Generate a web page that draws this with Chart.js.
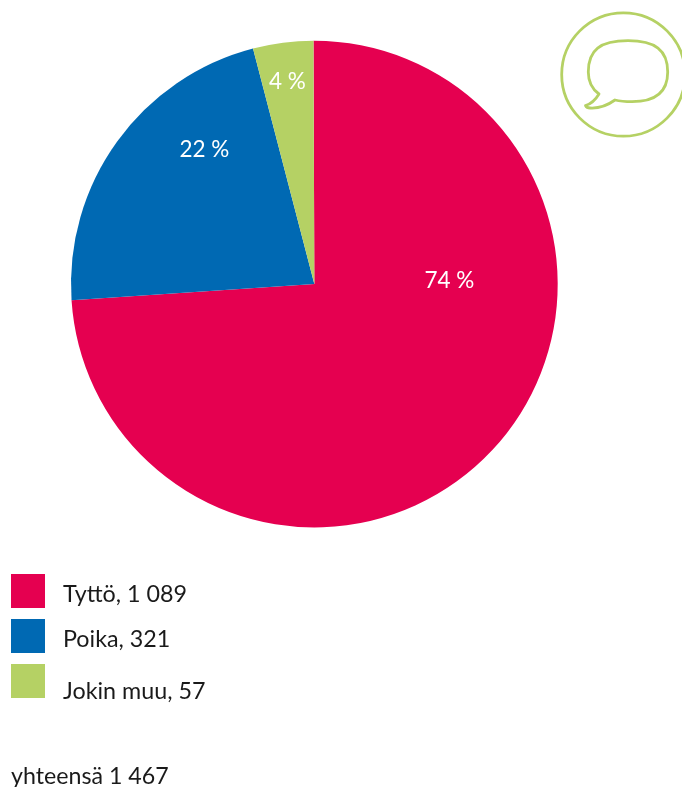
<!DOCTYPE html>
<html lang="fi">
<head>
<meta charset="utf-8">
<title>Tyttö, poika, jokin muu</title>
<script src="https://cdn.jsdelivr.net/npm/chart.js@4"></script>
<style>
  html, body { margin: 0; padding: 0; background: #fff; overflow: hidden; }
  #stage { position: relative; width: 682px; height: 787px; font-family: Lato, "Open Sans", sans-serif; color: #1a1a1a; }
  #stage canvas { position: absolute; left: 0; top: 0; }
  #icon { position: absolute; left: 0; top: 0; pointer-events: none; }
  .swatch { position: absolute; left: 11px; width: 34px; height: 34px; }
  .entry, #total { position: absolute; font-size: 23.3px; line-height: 28px; white-space: nowrap; }
  .entry { left: 63px; }
  #total { left: 11px; top: 761px; font-size: 23.2px; }
</style>
</head>
<body>
<div id="stage">
  <canvas id="chart" width="682" height="787"></canvas>
  <svg id="icon" width="682" height="787" fill="none" stroke="#b5d164">
    <circle cx="623.4" cy="74.5" r="61.7" stroke-width="2.8"/>
    <path stroke-width="2.8" stroke-linejoin="round" d="M628 40.7 C655 40.7 667.7 50 667.7 72 C667.7 92 655 101.7 632 101.7 C625 101.7 619 101 615 100 C608 105 598 108.5 590 108 C587 108 586 106.5 585.5 105.5 C591 104 596 99 599 94 C592 89 588.3 82 588.3 72 C588.3 50 600 40.7 628 40.7 Z"/>
  </svg>
</div>
<script>
// Gender breakdown of respondents
const categories = ['Tyttö', 'Poika', 'Jokin muu'];
const counts = ['1 089', '321', '57'];
const percentages = [74, 22, 4];
const colors = ['#e50050', '#0069b3', '#b5d164'];
const totalLabel = 'yhteensä 1 467';

// Hand-placed label offsets from the pie centre, in pixels
const labelOffsets = [[135, -3], [-110, -134], [-27, -202]];
const legendTops = [574, 619, 664];
const legendTextTops = [579, 624, 676];

const percentLabels = {
  id: 'percentLabels',
  afterDatasetsDraw(chart) {
    const ctx = chart.ctx;
    const arcs = chart.getDatasetMeta(0).data;
    ctx.save();
    ctx.fillStyle = '#fff';
    ctx.font = '22.5px Lato, "Open Sans", sans-serif';
    ctx.textAlign = 'center';
    ctx.textBaseline = 'middle';
    arcs.forEach((arc, i) => {
      ctx.fillText(percentages[i] + ' %', arc.x + labelOffsets[i][0], arc.y + labelOffsets[i][1]);
    });
    ctx.restore();
  }
};

new Chart(document.getElementById('chart'), {
  type: 'pie',
  data: {
    labels: categories,
    datasets: [{ data: percentages, backgroundColor: colors, borderWidth: 0 }]
  },
  options: {
    responsive: false,
    animation: false,
    rotation: -0.2,
    layout: { padding: { left: 71, right: 124.3, top: 40.7, bottom: 259.5 } },
    plugins: { legend: { display: false }, tooltip: { enabled: false } }
  },
  plugins: [percentLabels]
});

// Legend and total under the pie
const stage = document.getElementById('stage');
categories.forEach((name, i) => {
  const swatch = document.createElement('div');
  swatch.className = 'swatch';
  swatch.style.top = legendTops[i] + 'px';
  swatch.style.background = colors[i];
  stage.appendChild(swatch);
  const entry = document.createElement('div');
  entry.className = 'entry';
  entry.style.top = legendTextTops[i] + 'px';
  entry.textContent = name + ', ' + counts[i];
  stage.appendChild(entry);
});
const total = document.createElement('div');
total.id = 'total';
total.textContent = totalLabel;
stage.appendChild(total);
</script>
</body>
</html>
